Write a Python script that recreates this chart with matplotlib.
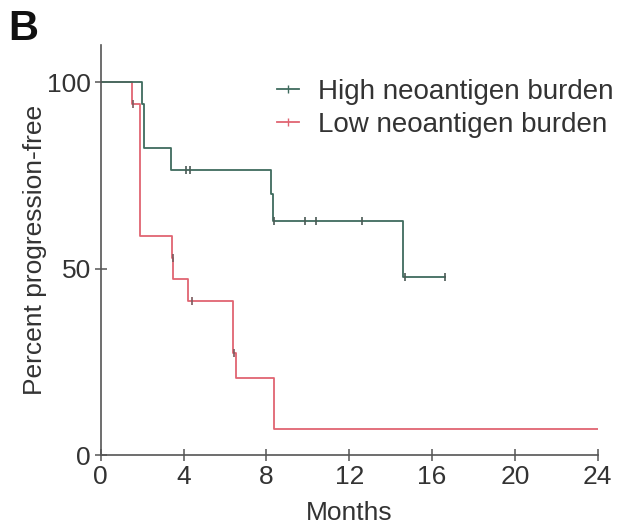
import matplotlib
matplotlib.use("Agg")
import matplotlib.pyplot as plt
from matplotlib.lines import Line2D

# --- data (months, percent progression-free) ---
high_t = [0, 2.0, 2.1, 3.4, 8.2, 8.3, 14.6, 16.6]
high_s = [100, 94.1, 82.4, 76.5, 70.1, 62.9, 47.7, 47.7]
high_cens_t = [4.1, 4.3, 8.35, 9.85, 10.4, 12.6, 14.7, 16.6]
high_cens_s = [76.5, 76.5, 62.9, 62.9, 62.9, 62.9, 47.7, 47.7]

low_t = [0, 1.5, 1.9, 3.45, 3.5, 4.2, 6.4, 6.55, 8.35, 24]
low_s = [100, 94.1, 58.8, 52.9, 47.1, 41.2, 27.5, 20.6, 6.9, 6.9]
low_cens_t = [1.55, 3.5, 4.4, 6.45]
low_cens_s = [94.1, 52.9, 41.2, 27.5]

labels = ["High neoantigen burden", "Low neoantigen burden"]
green = "#3f6b5e"
red = "#e06472"

plt.rcParams["font.family"] = ["Liberation Sans", "DejaVu Sans"]

fig = plt.figure(figsize=(6.22, 5.28), dpi=100)
ax = fig.add_axes([0.162, 0.138, 0.799, 0.777])

ax.step(low_t, low_s, where="post", color=red, lw=1.3)
ax.plot(low_cens_t, low_cens_s, ls="none", marker="|", ms=6, mew=1.2, color="#7a5a5e")
ax.step(high_t, high_s, where="post", color=green, lw=1.3)
ax.plot(high_cens_t, high_cens_s, ls="none", marker="|", ms=6, mew=1.2, color="#4a5a55")

ax.set_xlim(0, 24)
ax.set_ylim(0, 110)
ax.set_xticks([0, 4, 8, 12, 16, 20, 24])
ax.set_yticks([0, 50, 100])
ax.tick_params(direction="inout", length=8, width=1.1, color="#555555",
               labelsize=19, labelcolor="#333333", pad=3)
for s in ["top", "right"]:
    ax.spines[s].set_visible(False)
for s in ["left", "bottom"]:
    ax.spines[s].set_color("#555555")
    ax.spines[s].set_linewidth(1.2)

ax.set_xlabel("Months", fontsize=19, color="#333333", labelpad=9)
ax.set_ylabel("Percent progression-free", fontsize=19, color="#333333", labelpad=0)

handles = [Line2D([], [], color=green, lw=1.3, marker="|", ms=6),
           Line2D([], [], color=red, lw=1.3, marker="|", ms=6)]
leg = ax.legend(handles, labels, loc="upper right", bbox_to_anchor=(1.066, 0.958),
                frameon=False, fontsize=20, handlelength=0.8, handletextpad=0.7,
                labelspacing=0.25, borderaxespad=0.2)
for t in leg.get_texts():
    t.set_color("#333333")

fig.text(0.013, 0.925, "B", fontsize=30, fontweight="bold", color="#111111")

fig.savefig("out.png", dpi=100)
